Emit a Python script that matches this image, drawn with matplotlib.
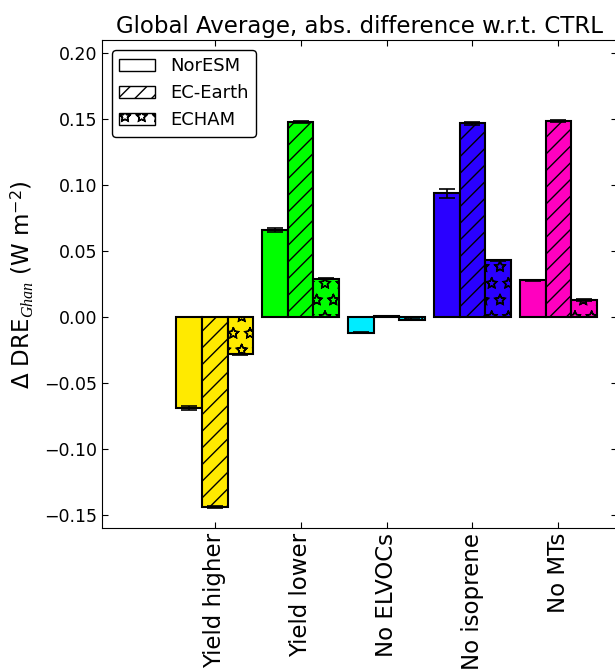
import matplotlib
matplotlib.use('Agg')
import matplotlib.pyplot as plt
import matplotlib.hatch as mhatch
import numpy as np

# sensitivity experiments and models
experiments = ['Yield higher', 'Yield lower', 'No ELVOCs', 'No isoprene', 'No MTs']
models = ['NorESM', 'EC-Earth', 'ECHAM']

# global mean abs. difference w.r.t. CTRL (W m-2), one list per model
noresm = [-0.069, 0.066, -0.012, 0.094, 0.028]
ecearth = [-0.144, 0.148, 0.0005, 0.147, 0.149]
echam = [-0.028, 0.029, -0.002, 0.043, 0.013]

# standard errors
noresm_err = [0.0015, 0.0018, 0.0004, 0.0033, 0.0004]
ecearth_err = [0.0010, 0.0010, 0.0003, 0.0010, 0.0008]
echam_err = [0.0004, 0.0004, 0.0003, 0.0003, 0.0004]


# hollow stars like the old matplotlib hatch
class HollowStars(mhatch.Stars):
    filled = False

mhatch._hatch_types = [HollowStars if t is mhatch.Stars else t for t in mhatch._hatch_types]

plt.rcParams['mathtext.fontset'] = 'custom'
plt.rcParams['mathtext.rm'] = 'DejaVu Sans'
plt.rcParams['mathtext.it'] = 'Liberation Serif:italic'
plt.rcParams['hatch.linewidth'] = 1.0
plt.rcParams['xtick.direction'] = 'in'
plt.rcParams['ytick.direction'] = 'in'
plt.rcParams['xtick.top'] = True
plt.rcParams['ytick.right'] = True
plt.rcParams['xtick.major.size'] = 4
plt.rcParams['ytick.major.size'] = 4

colors = plt.cm.gist_rainbow(np.linspace(0.2, 1.0, 5))
hatches = ['', '//', '*']
width = 0.3

fig = plt.figure(figsize=(6.15, 6.71), dpi=100)
ax = fig.add_axes([0.166, 0.213, 0.837, 0.727])

ind = np.arange(len(experiments))
for i, (vals, errs) in enumerate([(noresm, noresm_err), (ecearth, ecearth_err), (echam, echam_err)]):
    ax.bar(ind + (i - 1) * width, vals, width, color=colors, edgecolor='k',
           linewidth=1.5, hatch=hatches[i], yerr=errs,
           error_kw=dict(ecolor='k', capsize=6, elinewidth=1.2, capthick=1.2))

# legend with white hatched patches
handles = [plt.Rectangle((0, 0), 1, 1, facecolor='w', edgecolor='k', hatch=h) for h in hatches]
ax.legend(handles, models, loc='upper left', fontsize=13, fancybox=True,
          framealpha=1, edgecolor='k', borderaxespad=0.55)

ax.set_xlim(-1.31, 4.68)
ax.set_ylim(-0.16, 0.21)
ax.set_xticks(ind)
ax.set_xticklabels(experiments, rotation=90, fontsize=16.5)
ax.set_yticks(np.arange(-0.15, 0.201, 0.05))
ax.tick_params(axis='y', labelsize=12.5)
ax.set_ylabel('Δ DRE$_{Ghan}$ (W m$^{-2}$)', fontsize=16.5, labelpad=6)
ax.set_title('Global Average, abs. difference w.r.t. CTRL', fontsize=16.5, pad=5)

fig.savefig('out.png', dpi=100)
